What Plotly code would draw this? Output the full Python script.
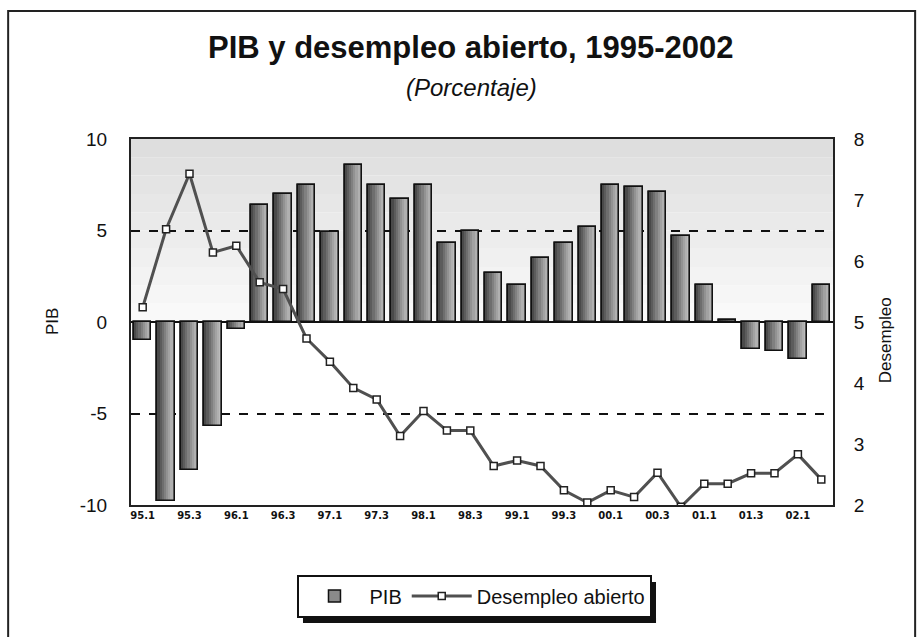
import plotly.graph_objects as go

quarters = ["95.1", "95.2", "95.3", "95.4", "96.1", "96.2", "96.3", "96.4",
            "97.1", "97.2", "97.3", "97.4", "98.1", "98.2", "98.3", "98.4",
            "99.1", "99.2", "99.3", "99.4", "00.1", "00.2", "00.3", "00.4",
            "01.1", "01.2", "01.3", "01.4", "02.1", "02.2"]
pib = [-1.0, -9.8, -8.1, -5.7, -0.4, 6.4, 7.0, 7.5,
       4.9, 8.6, 7.5, 6.7, 7.5, 4.3, 5.0, 2.7,
       2.0, 3.5, 4.3, 5.2, 7.5, 7.4, 7.1, 4.7,
       2.0, 0.1, -1.5, -1.6, -2.0, 2.0]
desempleo = [5.24, 6.52, 7.43, 6.14, 6.25, 5.65, 5.54, 4.73,
             4.35, 3.92, 3.73, 3.13, 3.54, 3.22, 3.22, 2.64,
             2.73, 2.64, 2.24, 2.04, 2.24, 2.13, 2.53, 1.97,
             2.35, 2.35, 2.52, 2.52, 2.83, 2.42]
tick_labels = quarters[::2]
pib_ticks = [-10, -5, 0, 5, 10]
des_ticks = [2, 3, 4, 5, 6, 7, 8]

FONT = "Liberation Sans, Arial, sans-serif"
x_idx = list(range(len(quarters)))

fig = go.Figure()

BAR_W = 0.74
fig.add_trace(go.Bar(x=x_idx, y=pib, name="PIB", width=BAR_W,
                     marker=dict(color="#8a8a8a", line=dict(color="#111", width=1.5)),
                     showlegend=True))
slice_cols = ["#4a4a4a", "#5c5c5c", "#6e6e6e", "#808080", "#929292",
              "#a2a2a2", "#b0b0b0", "#bcbcbc"]
n = len(slice_cols)
for i, c in enumerate(slice_cols):
    fig.add_trace(go.Bar(x=x_idx, y=pib, width=BAR_W / n,
                         offset=-BAR_W / 2 + i * BAR_W / n,
                         marker=dict(color=c, line=dict(width=0)),
                         showlegend=False, hoverinfo="skip"))
fig.add_trace(go.Bar(x=x_idx, y=pib, width=BAR_W,
                     marker=dict(color="rgba(0,0,0,0)", line=dict(color="#111", width=1.6)),
                     showlegend=False, hoverinfo="skip"))

fig.add_trace(go.Scatter(x=x_idx, y=desempleo, name="Desempleo abierto", yaxis="y2",
                         mode="lines+markers",
                         line=dict(color="#505050", width=3),
                         marker=dict(symbol="square", size=7, color="white",
                                     line=dict(color="#222", width=1.5))))

band_cols = ["#dedede", "#e1e1e1", "#e4e4e4", "#e7e7e7", "#eaeaea",
             "#ededed", "#f0f0f0", "#f3f3f3", "#f6f6f6", "#f9f9f9"]
shapes = []
for k, c in enumerate(band_cols):
    shapes.append(dict(type="rect", xref="paper", yref="y", x0=0, x1=1,
                       y0=10 - k - 1, y1=10 - k, fillcolor=c, line=dict(width=0),
                       layer="below"))
# outer frame
shapes.append(dict(type="rect", xref="paper", yref="paper",
                   x0=-0.175, x1=1.117, y0=-0.40, y1=1.35,
                   line=dict(color="#222", width=2), fillcolor="rgba(0,0,0,0)"))
# legend drop shadow
shapes.append(dict(type="rect", xref="paper", yref="paper",
                   x0=0.7407, x1=0.7479, y0=-0.3224, y1=-0.2104,
                   line=dict(width=0), fillcolor="#111"))
shapes.append(dict(type="rect", xref="paper", yref="paper",
                   x0=0.245, x1=0.7479, y0=-0.3224, y1=-0.3087,
                   line=dict(width=0), fillcolor="#111"))

annotations = [
    dict(text="<b>PIB y desempleo abierto, 1995-2002</b>", xref="paper", yref="paper",
         x=0.485, y=1.249, xanchor="center", yanchor="middle", showarrow=False,
         font=dict(family=FONT, size=31, color="#111")),
    dict(text="<i>(Porcentaje)</i>", xref="paper", yref="paper",
         x=0.485, y=1.142, xanchor="center", yanchor="middle", showarrow=False,
         font=dict(family=FONT, size=24, color="#111")),
    dict(text="PIB", xref="paper", yref="paper", x=-0.1125, y=0.5, textangle=-90,
         xanchor="center", yanchor="middle",
         showarrow=False, font=dict(family=FONT, size=17, color="#111")),
    dict(text="Desempleo", xref="paper", yref="paper", x=1.074, y=0.45, textangle=-90,
         xanchor="center", yanchor="middle",
         showarrow=False, font=dict(family=FONT, size=17, color="#111")),
]

fig.update_layout(
    width=920, height=637,
    margin=dict(l=131, r=87, t=139, b=132, autoexpand=False),
    paper_bgcolor="white", plot_bgcolor="white",
    barmode="overlay", bargap=0,
    shapes=shapes, annotations=annotations,
    font=dict(family=FONT, color="#111"),
    xaxis=dict(range=[-0.5, len(quarters) - 0.5],
               tickmode="array", tickvals=x_idx[::2], ticktext=tick_labels,
               tickfont=dict(size=10, family="DejaVu Sans", weight="bold"),
               showline=True, linecolor="#222", linewidth=2, mirror=True,
               showgrid=False, zeroline=False, ticks=""),
    yaxis=dict(range=[-10, 10], tickvals=pib_ticks, ticktext=[str(v) for v in pib_ticks],
               tickfont=dict(size=19), showline=True, linecolor="#222", linewidth=2,
               mirror=True, showgrid=True, gridcolor="#111", gridwidth=2, griddash="dash",
               zeroline=True, zerolinecolor="#111", zerolinewidth=2,
               ticks="outside", ticklen=18, tickcolor="rgba(0,0,0,0)"),
    yaxis2=dict(range=[2, 8], tickvals=des_ticks, overlaying="y", side="right",
                tickfont=dict(size=19), showgrid=False, zeroline=False,
                ticks="outside", ticklen=16, tickcolor="rgba(0,0,0,0)"),
    legend=dict(orientation="h", x=0.49, xanchor="center", y=-0.19, yanchor="top",
                bordercolor="#111", borderwidth=2, bgcolor="white",
                font=dict(size=20, family=FONT), itemwidth=60),
)

fig.write_html("out.html", config={"displayModeBar": False},
               post_script="document.body.style.margin='0';")
